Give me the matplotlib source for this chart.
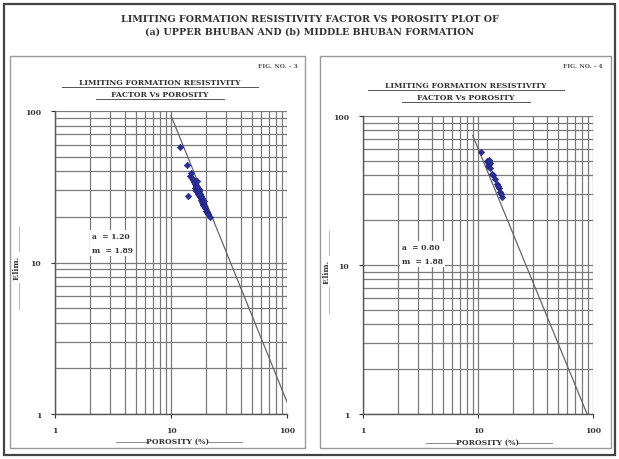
import numpy as np
import matplotlib
matplotlib.use("Agg")
import matplotlib.pyplot as plt
from matplotlib.patches import Rectangle
from matplotlib.lines import Line2D

plt.rcParams['font.family'] = ['DejaVu Serif', 'Liberation Serif']

W, H = 619, 460

# (a) Upper Bhuban - porosity (%) and limiting formation factor
upper_phi = [12.0, 13.8, 14.5, 15.0, 15.5, 16.0, 16.2, 16.5, 16.8, 17.0, 17.2, 17.5,
             17.8, 18.0, 18.2, 18.5, 18.8, 19.0, 19.3, 19.6, 20.0, 20.3, 20.8, 21.5,
             14.1, 15.8, 17.3, 16.4, 18.6, 15.2, 16.9, 17.6, 18.3, 19.1, 16.6, 17.9]
upper_F = [58, 44, 37, 39, 35, 33, 31, 32, 30, 29, 28.5, 28,
           27, 26.5, 26, 25, 24.5, 24, 23.5, 23, 22, 21.5, 21, 20,
           27.5, 34, 30.5, 29.5, 26.5, 36, 31.5, 29.5, 27.5, 25.5, 34.5, 28.5]
upper_a, upper_m = 1.20, 1.89

# (b) Middle Bhuban
middle_phi = [10.6, 12.0, 12.3, 12.5, 12.2, 12.8, 13.6, 14.0, 14.5, 15.1, 15.5, 16.1,
              15.8, 12.6, 13.3, 14.8, 12.4]
middle_F = [57, 50, 49, 47.5, 46, 45, 40, 38, 35, 33, 31, 28.5,
            30, 48, 41, 34, 51]
middle_a, middle_m = 0.80, 1.88

line_range = {"upper": (10.0, 100.0), "middle": (9.0, 100.0)}

title_lines = ["LIMITING FORMATION RESISTIVITY FACTOR VS POROSITY PLOT OF",
               "(a) UPPER BHUBAN AND (b) MIDDLE BHUBAN FORMATION"]
sub_title = "LIMITING FORMATION RESISTIVITY\nFACTOR Vs POROSITY"

fig = plt.figure(figsize=(W / 100, H / 100), dpi=100)


def fx(x):
    return x / W


def fy(y):
    return 1 - y / H


def box(x0, y0, x1, y1, **kw):
    fig.add_artist(Rectangle((fx(x0), fy(y1)), fx(x1) - fx(x0), fy(y0) - fy(y1),
                             transform=fig.transFigure, fill=False, **kw))


def hline(x0, x1, y, **kw):
    fig.add_artist(Line2D([fx(x0), fx(x1)], [fy(y), fy(y)], transform=fig.transFigure, **kw))


def vline(x, y0, y1, **kw):
    fig.add_artist(Line2D([fx(x), fx(x)], [fy(y0), fy(y1)], transform=fig.transFigure, **kw))


# frames
box(4, 5, 615, 456, lw=1.6, edgecolor="#444444")
box(10, 57, 305, 449, lw=1.0, edgecolor="#9a9a9a")
box(320, 57, 611, 449, lw=1.0, edgecolor="#9a9a9a")

fig.text(0.5, fy(19), title_lines[0], ha="center", va="center", fontsize=6.8,
         fontweight="bold", color="#333333")
fig.text(0.5, fy(32), title_lines[1], ha="center", va="center", fontsize=6.8,
         fontweight="bold", color="#333333")


def panel(rect_px, phi, F, a, m, span, fig_no, sub_xy, eq_xy, ylab_xy, xlab_y, xlab_cx):
    x0, y0, x1, y1 = rect_px
    ax = fig.add_axes([fx(x0), fy(y1), fx(x1) - fx(x0), fy(y0) - fy(y1)])
    ax.set_xscale("log")
    ax.set_yscale("log")
    ax.set_xlim(1, 100)
    ax.set_ylim(1, 100)
    ax.grid(True, which="both", color="#7a7a7a", lw=0.9)
    ax.set_axisbelow(True)
    for s in ["top", "right"]:
        ax.spines[s].set_visible(False)
    for s in ["left", "bottom"]:
        ax.spines[s].set_color("#555555")
        ax.spines[s].set_linewidth(1.0)
    ax.set_xticks([1, 10, 100])
    ax.set_xticklabels(["1", "10", "100"])
    ax.set_yticks([1, 10, 100])
    ax.set_yticklabels(["1", "10", "100"])
    ax.tick_params(which="major", length=3, labelsize=5.5, pad=7, colors="#333333")
    ax.tick_params(axis="x", pad=6)
    ax.tick_params(which="minor", length=0)
    for lab in ax.get_xticklabels() + ax.get_yticklabels():
        lab.set_fontweight("bold")

    xl = np.logspace(np.log10(span[0]), np.log10(span[1]), 50)
    ax.plot(xl, a * (xl / 100) ** (-m), color="#666666", lw=0.9, zorder=3)
    ax.scatter(phi, F, marker="D", s=11, color="#2a2f9c", edgecolors="#1d1f7a",
               linewidths=0.4, zorder=4)

    ax.text(eq_xy[0], eq_xy[1], f"a  = {a:.2f}\nm  = {m:.2f}", transform=ax.transAxes,
            fontsize=5.5, fontweight="bold", color="#333333", linespacing=2.0,
            va="top", ha="left",
            bbox=dict(facecolor="white", edgecolor="none", pad=1.5), zorder=5)

    fig.text(fx(fig_no[0]), fy(fig_no[1]), fig_no[2], ha="right", va="center",
             fontsize=4.3, fontweight="bold", color="#555555")
    fig.text(fx(sub_xy[0]), fy(sub_xy[1]), sub_title, ha="center", va="top",
             fontsize=5.5, fontweight="bold", color="#333333", linespacing=1.6)
    # underline the two lines of the sub title
    hline(sub_xy[0] - 98, sub_xy[0] + 98, sub_xy[1] + 9, lw=0.7, color="#555555")
    hline(sub_xy[0] - 64, sub_xy[0] + 64, sub_xy[1] + 21, lw=0.7, color="#555555")

    # y label with leader lines
    yx, yy = ylab_xy
    fig.text(fx(yx), fy(yy), "F.lim.", rotation=90, ha="center", va="center",
             fontsize=5.5, fontweight="bold", color="#333333")
    vline(yx + 2, yy - 40, yy - 16, lw=0.6, color="#aaaaaa")
    vline(yx + 2, yy + 16, yy + 42, lw=0.6, color="#aaaaaa")

    # x label with leader lines
    fig.text(fx(xlab_cx), fy(xlab_y), "POROSITY (%)", ha="center", va="center",
             fontsize=5.5, fontweight="bold", color="#333333")
    hline(xlab_cx - 62, xlab_cx - 30, xlab_y + 1, lw=0.6, color="#777777")
    hline(xlab_cx + 30, xlab_cx + 64, xlab_y + 1, lw=0.6, color="#777777")
    return ax


panel((55, 112, 287, 415), upper_phi, upper_F, upper_a, upper_m, line_range["upper"],
      (298, 66, "FIG. NO. - 3"), (160, 79), (0.16, 0.60), (17, 268), 442, 178)
panel((363, 117, 593, 415), middle_phi, middle_F, middle_a, middle_m, line_range["middle"],
      (603, 66, "FIG. NO. - 4"), (466, 82), (0.17, 0.575), (327, 272), 443, 488)

fig.savefig("out.png", dpi=100)
